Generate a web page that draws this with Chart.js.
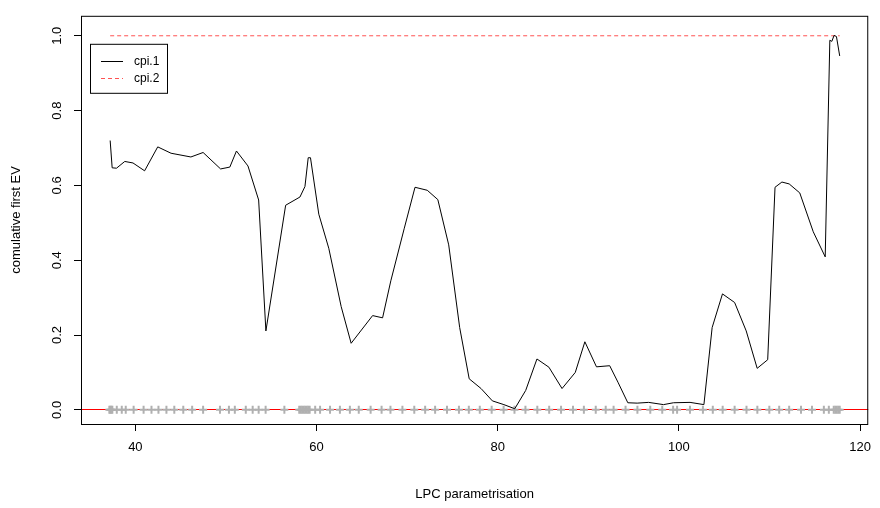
<!DOCTYPE html>
<html>
<head>
<meta charset="utf-8">
<title>cumulative first EV</title>
<script src="https://cdn.jsdelivr.net/npm/chart.js@4.4.1/dist/chart.umd.min.js"></script>
<style>
    html, body { margin: 0; padding: 0; background: #fff; }
    #wrap { width: 880px; height: 508px; }
</style>
</head>
<body>
<div id="wrap"><canvas id="chart" width="880" height="508"></canvas></div>
<script>
// curve vertices (LPC parameter) and cpi.1 values
const curveX = [37.22, 37.44, 37.92, 38.83, 39.74, 41.02, 42.47, 43.94, 46.13, 47.48,
    49.41, 50.43, 51.16, 52.43, 53.61, 54.41, 56.59, 58.17, 58.72, 59.08,
    59.33, 60.25, 61.35, 62.72, 63.82, 66.19, 67.29, 68.20, 69.67, 70.87,
    72.22, 73.39, 74.59, 75.80, 76.85, 78.16, 79.41, 80.68, 81.88, 83.09,
    84.33, 85.65, 87.10, 88.56, 89.62, 90.90, 92.36, 93.27, 94.36, 95.39,
    96.66, 98.30, 99.40, 101.23, 102.76, 103.67, 104.81, 106.15, 107.43, 108.64,
    109.80, 110.61, 111.37, 112.17, 113.34, 114.83, 116.15, 116.66, 116.88, 117.13,
    117.39, 117.75];
const cpi1 = [0.720, 0.647, 0.646, 0.664, 0.660, 0.639, 0.703, 0.686, 0.676, 0.688,
    0.644, 0.649, 0.692, 0.652, 0.561, 0.211, 0.547, 0.569, 0.597, 0.674,
    0.674, 0.523, 0.432, 0.276, 0.178, 0.252, 0.246, 0.345, 0.484, 0.595,
    0.587, 0.562, 0.441, 0.220, 0.083, 0.057, 0.024, 0.014, 0.003, 0.052,
    0.136, 0.114, 0.057, 0.100, 0.182, 0.115, 0.118, 0.074, 0.019, 0.018,
    0.020, 0.014, 0.019, 0.020, 0.014, 0.220, 0.310, 0.287, 0.211, 0.111,
    0.134, 0.595, 0.609, 0.604, 0.580, 0.476, 0.409, 0.988, 0.985, 1.001,
    0.998, 0.946];

// cpi.2 stays at 1 over the whole range
const cpi2X = [37.22, 117.75];
const cpi2 = [1.0, 1.0];

// grey "+" marks along zero (projection points)
const rugX = [37.13, 37.24, 37.35, 37.46, 37.95, 38.50, 38.94, 39.81, 40.91, 41.78,
    42.55, 43.43, 44.30, 45.29, 46.27, 47.48, 49.34, 50.33, 50.98, 52.19,
    52.95, 53.61, 54.38, 56.45, 58.09, 58.26, 58.42, 58.59, 58.75, 58.92,
    59.08, 59.24, 59.85, 60.39, 61.49, 62.58, 63.68, 64.66, 65.97, 67.18,
    68.16, 69.48, 70.79, 71.99, 73.09, 74.40, 75.72, 76.81, 78.02, 79.33,
    80.65, 81.85, 83.06, 84.37, 85.68, 86.99, 88.31, 89.51, 90.82, 91.92,
    92.79, 94.11, 95.42, 96.84, 98.16, 99.36, 99.80, 101.22, 102.65, 103.74,
    104.83, 106.15, 107.46, 108.66, 109.98, 111.07, 112.17, 113.48, 114.69, 116.00,
    116.55, 117.09, 117.26, 117.42, 117.59, 117.75];

const xTicks = [40, 60, 80, 100, 120];
const yTicks = [0, 0.2, 0.4, 0.6, 0.8, 1.0];

const FONT = 'Liberation Sans, Arial, Helvetica, sans-serif';
const RED2 = '#ff5252';

function pts(xs, ys) {
    return xs.map((x, i) => ({ x: x, y: ys[i] }));
}

// red reference line at zero, under the data
const zeroLine = {
    id: 'zeroLine',
    beforeDatasetsDraw(chart) {
        const { ctx, chartArea, scales } = chart;
        const y = Math.floor(scales.y.getPixelForValue(0)) + 0.5;
        ctx.save();
        ctx.strokeStyle = '#ff0000';
        ctx.lineWidth = 1;
        ctx.beginPath();
        ctx.moveTo(chartArea.left, y);
        ctx.lineTo(chartArea.right, y);
        ctx.stroke();
        ctx.restore();
    }
};

// box round the plot + legend in the top left corner
const frame = {
    id: 'frame',
    afterDraw(chart) {
        const { ctx, chartArea } = chart;
        ctx.save();
        ctx.strokeStyle = '#000';
        ctx.lineWidth = 1;
        ctx.strokeRect(chartArea.left + 0.5, chartArea.top + 0.5,
            chartArea.right - chartArea.left - 1, chartArea.bottom - chartArea.top);

        // legend
        const lx = chartArea.left + 9, ly = chartArea.top + 28;
        ctx.fillStyle = '#fff';
        ctx.fillRect(lx, ly, 77, 49);
        ctx.strokeRect(lx + 0.5, ly + 0.5, 77, 49);
        const items = chart.data.datasets.filter(d => d.label);
        ctx.font = '12px ' + FONT;
        ctx.textBaseline = 'middle';
        items.forEach((d, i) => {
            const yy = Math.round(ly + 17.5 + i * 16.7) + 0.5;
            ctx.strokeStyle = d.borderColor;
            ctx.lineWidth = 1;
            ctx.setLineDash(d.borderDash || []);
            ctx.beginPath();
            ctx.moveTo(lx + 11, yy);
            ctx.lineTo(lx + 33, yy);
            ctx.stroke();
            ctx.setLineDash([]);
            ctx.fillStyle = '#000';
            ctx.fillText(d.label, lx + 44, yy);
        });
        ctx.restore();
    }
};

const ctx = document.getElementById('chart').getContext('2d');
const chart = new Chart(ctx, {
    type: 'scatter',
    data: {
        datasets: [
            {
                label: 'cpi.1',
                data: pts(curveX, cpi1),
                showLine: true,
                borderColor: '#000000',
                borderWidth: 1,
                pointRadius: 0,
                tension: 0,
                order: 1
            },
            {
                label: 'cpi.2',
                data: pts(cpi2X, cpi2),
                showLine: true,
                borderColor: RED2,
                borderWidth: 1,
                borderDash: [4, 3],
                pointRadius: 0,
                order: 2
            },
            {
                data: rugX.map(x => ({ x: x, y: 0 })),
                showLine: false,
                pointStyle: 'cross',
                pointRadius: 4,
                pointBorderWidth: 2,
                pointBorderColor: '#b0b0b0',
                order: 3
            }
        ]
    },
    options: {
        responsive: false,
        animation: false,
        layout: { padding: { top: 5, right: 4, left: 0, bottom: 0 } },
        plugins: {
            legend: { display: false },
            tooltip: { enabled: false }
        },
        scales: {
            x: {
                type: 'linear',
                position: 'bottom',
                min: 34,
                max: 120.9,
                afterBuildTicks: s => { s.ticks = xTicks.map(v => ({ value: v })); },
                ticks: {
                    autoSkip: false,
                    maxRotation: 0,
                    padding: 9,
                    color: '#000',
                    font: { family: FONT, size: 13 },
                    callback: v => String(v)
                },
                grid: { drawOnChartArea: false, drawTicks: true, tickLength: 7, color: '#000', tickColor: '#000' },
                border: { display: false },
                title: {
                    display: true,
                    text: 'LPC parametrisation',
                    color: '#000',
                    font: { family: FONT, size: 13 },
                    padding: { top: 0, bottom: 6 }
                },
                afterFit: s => { s.height = 84; }
            },
            y: {
                type: 'linear',
                min: -0.0378,
                max: 1.0534,
                afterBuildTicks: s => { s.ticks = yTicks.map(v => ({ value: v })); },
                ticks: {
                    autoSkip: false,
                    minRotation: 90,
                    maxRotation: 90,
                    crossAlign: 'center',
                    padding: 8,
                    color: '#000',
                    font: { family: FONT, size: 13 },
                    callback: v => v.toFixed(1)
                },
                grid: { drawOnChartArea: false, drawTicks: true, tickLength: 7, color: '#000', tickColor: '#000' },
                border: { display: false },
                title: {
                    display: true,
                    text: 'comulative first EV',
                    color: '#000',
                    font: { family: FONT, size: 13 },
                    padding: { top: 9, bottom: 0 }
                },
                afterFit: s => { s.width = 81; }
            }
        }
    },
    plugins: [zeroLine, frame]
});
</script>
</body>
</html>
